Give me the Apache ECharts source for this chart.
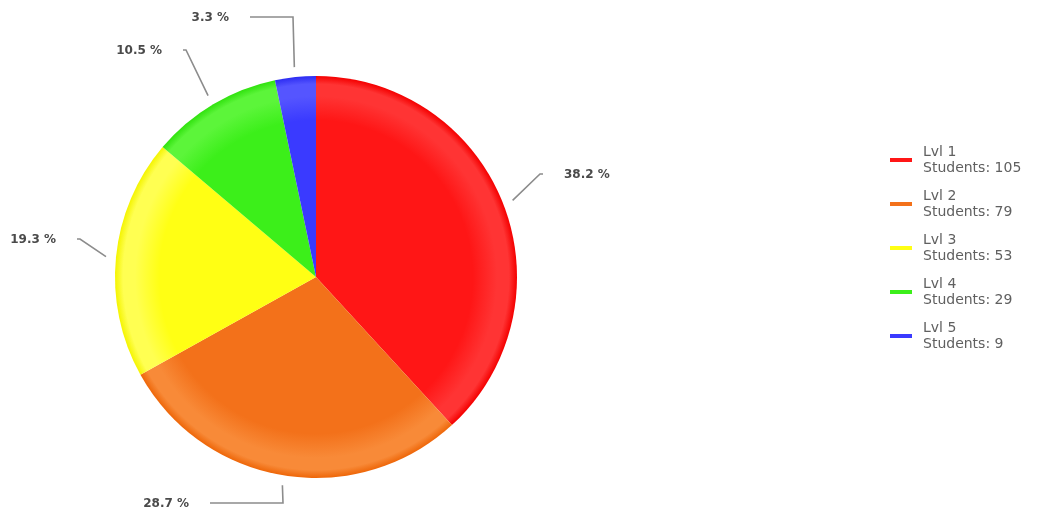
<!DOCTYPE html>
<html>
<head>
<meta charset="utf-8">
<title>Students per level</title>
<script src="https://cdn.jsdelivr.net/npm/echarts@6/dist/echarts.min.js"></script>
<style>
  html, body { margin: 0; padding: 0; background: #ffffff; }
  #chart { width: 1039px; height: 521px; }
</style>
</head>
<body>
<div id="chart"></div>
<script>
// Levels and the number of students at each one
const levels = ['Lvl 1', 'Lvl 2', 'Lvl 3', 'Lvl 4', 'Lvl 5'];
const students = [105, 79, 53, 29, 9];

// Slice palette: flat legend colour plus the shading stops of the slice
const baseColors  = ['#ff1616', '#f3711a', '#ffff14', '#3cef1a', '#3a3aff'];
const ringColors  = ['#ff3434', '#f88a38', '#ffff52', '#5cf53a', '#5555ff'];
const edgeColors  = ['#f40000', '#ee6608', '#f4f400', '#30e20e', '#2c2cf2'];

const total = students.reduce((a, b) => a + b, 0);

const CX = 316, CY = 277, R = 201;

// Leader line of each label: knee point (offset from the pie centre),
// horizontal tail length, and which side the text sits on.
const leaders = [
  { knee: [224, -103], tail: 3,   side: 'left'  },
  { knee: [-33, 226],  tail: -73, side: 'right' },
  { knee: [-236, -38], tail: -3,  side: 'right' },
  { knee: [-130, -227], tail: -3, side: 'right' },
  { knee: [-23, -260], tail: -43, side: 'right' }
];
const TEXT_GAP = 21;
const LINE_OFFSET = 10;

function shade(i) {
  return {
    type: 'radial', x: CX, y: CY, r: R, global: true,
    colorStops: [
      { offset: 0, color: baseColors[i] },
      { offset: 0.78, color: baseColors[i] },
      { offset: 0.90, color: ringColors[i] },
      { offset: 0.96, color: ringColors[i] },
      { offset: 1, color: edgeColors[i] }
    ]
  };
}

const chart = echarts.init(document.getElementById('chart'), null, { renderer: 'canvas' });

chart.setOption({
  animation: false,
  backgroundColor: '#ffffff',
  legend: {
    orient: 'vertical',
    left: 885,
    top: 139,
    itemWidth: 22,
    itemHeight: 4,
    itemGap: 12,
    icon: 'rect',
    data: levels.map((name, i) => ({ name, itemStyle: { color: baseColors[i] } })),
    formatter: name => name + '\nStudents: ' + students[levels.indexOf(name)],
    textStyle: {
      fontFamily: 'DejaVu Sans',
      fontSize: 14,
      lineHeight: 16,
      color: '#606060',
      padding: [0, 0, 0, 6]
    }
  },
  series: [{
    type: 'pie',
    center: [CX, CY],
    radius: R,
    startAngle: 90,
    clockwise: true,
    avoidLabelOverlap: false,
    emphasis: { scale: false },
    data: levels.map((name, i) => ({
      name,
      value: students[i],
      itemStyle: { color: shade(i) }
    })),
    label: {
      show: true,
      position: 'outside',
      fontFamily: 'DejaVu Sans',
      fontWeight: 'bold',
      fontSize: 12,
      color: '#4a4a4a',
      formatter: p => (p.value / total * 100).toFixed(1) + ' %'
    },
    labelLine: {
      show: true,
      length: 20,
      length2: 10,
      lineStyle: { color: '#8c8c8c', width: 1.6 }
    },
    labelLayout: params => {
      const L = leaders[params.dataIndex];
      const edge = params.labelLinePoints[0];
      const dx = edge[0] - CX, dy = edge[1] - CY;
      const len = Math.sqrt(dx * dx + dy * dy) || 1;
      const start = [edge[0] + dx / len * LINE_OFFSET, edge[1] + dy / len * LINE_OFFSET];
      const knee = [CX + L.knee[0], CY + L.knee[1]];
      const end = [knee[0] + L.tail, knee[1]];
      const tx = L.side === 'left' ? end[0] + TEXT_GAP : end[0] - TEXT_GAP;
      return {
        x: tx,
        y: knee[1] + 1,
        align: L.side,
        verticalAlign: 'middle',
        labelLinePoints: [start, knee, end]
      };
    }
  }]
});
</script>
</body>
</html>
